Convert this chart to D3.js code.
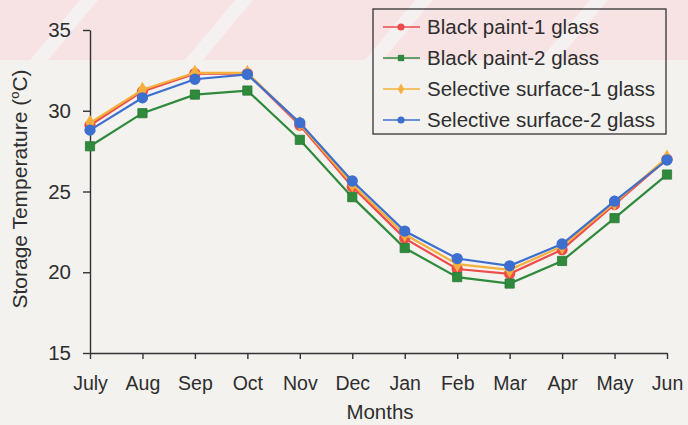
<!DOCTYPE html>
<html>
<head>
<meta charset="utf-8">
<script src="https://cdn.jsdelivr.net/npm/d3@7"></script>
<style>
  html, body { margin: 0; padding: 0; background: #f3f2ef; }
  svg { display: block; font-family: Arial, "Liberation Sans", sans-serif; }
</style>
</head>
<body>
<svg id="chart" width="688" height="425"></svg>
<script>
// Monthly storage temperatures of the collector variants
const months = ["July", "Aug", "Sep", "Oct", "Nov", "Dec", "Jan", "Feb", "Mar", "Apr", "May", "Jun"];
const blackPaint1 = [29.1, 31.2, 32.3, 32.3, 29.1, 25.3, 22.1, 20.2, 19.9, 21.4, 24.2, 27.0];
const blackPaint2 = [27.8, 29.85, 31.0, 31.25, 28.2, 24.65, 21.5, 19.7, 19.3, 20.7, 23.35, 26.05];
const selective1 = [29.25, 31.3, 32.35, 32.35, 29.2, 25.45, 22.35, 20.5, 20.15, 21.6, 24.3, 27.1];
const selective2 = [28.8, 30.8, 31.95, 32.25, 29.25, 25.65, 22.55, 20.85, 20.4, 21.75, 24.4, 26.95];
const yTicks = [15, 20, 25, 30, 35];
const seriesNames = ["Black paint-1 glass", "Black paint-2 glass", "Selective surface-1 glass", "Selective surface-2 glass"];

const series = [
  { name: seriesNames[0], values: blackPaint1, color: "#ee4b4b", marker: "circle" },
  { name: seriesNames[1], values: blackPaint2, color: "#2f8a3c", marker: "square" },
  { name: seriesNames[2], values: selective1, color: "#f4b03a", marker: "diamond" },
  { name: seriesNames[3], values: selective2, color: "#3d6fcf", marker: "circle" }
];

const svg = d3.select("#chart");
const W = 688, H = 425;
const textColor = "#2e2e2e";

// faint pink banner with diagonal light stripes across the top
const band = svg.append("g");
band.append("rect").attr("x", 0).attr("y", 0).attr("width", W).attr("height", 60).attr("fill", "#f7e2e4");
[30, 185, 365, 540, 700].forEach(x0 => {
  band.append("polygon")
    .attr("points", [[x0, 60], [x0 + 18, 60], [x0 + 68, 0], [x0 + 50, 0]].map(p => p.join(",")).join(" "))
    .attr("fill", "#f6f1f1");
});

const x = d3.scalePoint().domain(months).range([90, 667]);
const y = d3.scaleLinear().domain([15, 35]).range([353, 30]);

// axes
const xAxis = svg.append("g").attr("transform", "translate(0,353)")
  .call(d3.axisBottom(x).tickSize(6).tickPadding(17).tickSizeOuter(0));
const yAxis = svg.append("g").attr("transform", "translate(90,0)")
  .call(d3.axisLeft(y).tickValues(yTicks).tickSize(7).tickPadding(12).tickSizeOuter(0));

[xAxis, yAxis].forEach(g => {
  g.select(".domain").attr("stroke", "#333").attr("stroke-width", 1.4);
  g.selectAll(".tick line").attr("stroke", "#333").attr("stroke-width", 1.4);
  g.selectAll(".tick text").attr("fill", textColor)
    .attr("font-family", "Arial, 'Liberation Sans', sans-serif");
});
xAxis.selectAll(".tick text").attr("font-size", 19.5);
yAxis.selectAll(".tick text").attr("font-size", 20.5);

// axis titles
svg.append("text")
  .attr("x", 380).attr("y", 419)
  .attr("text-anchor", "middle")
  .attr("font-size", 20.5).attr("fill", textColor)
  .text("Months");

const yTitle = svg.append("text")
  .attr("transform", "translate(27,189) rotate(-90)")
  .attr("text-anchor", "middle")
  .attr("font-size", 21).attr("fill", textColor);
yTitle.append("tspan").text("Storage Temperature (");
yTitle.append("tspan").attr("font-size", 13).attr("dy", -8).text("o");
yTitle.append("tspan").attr("dy", 8).text("C)");

// marker symbols
const symbolFor = {
  circle: d3.symbol().type(d3.symbolCircle).size(100),
  square: d3.symbol().type(d3.symbolSquare).size(85),
  diamond: d3.symbol().type(d3.symbolDiamond).size(75)
};

const line = d3.line().x((d, i) => x(months[i])).y(d => y(d));

series.forEach(s => {
  const g = svg.append("g");
  g.append("path")
    .attr("d", line(s.values))
    .attr("fill", "none")
    .attr("stroke", s.color)
    .attr("stroke-width", 2.2);
  g.selectAll("path.pt").data(s.values).join("path")
    .attr("class", "pt")
    .attr("transform", (d, i) => `translate(${x(months[i])},${y(d)})`)
    .attr("d", symbolFor[s.marker]())
    .attr("fill", s.color)
    .attr("stroke", s.marker === "square" ? "#2a7a35" : "none")
    .attr("stroke-width", 0.8);
});

// legend
const legend = svg.append("g");
legend.append("rect")
  .attr("x", 373).attr("y", 9).attr("width", 293).attr("height", 125)
  .attr("fill", "none").attr("stroke", "#333").attr("stroke-width", 1.3);

const legendSymbol = {
  circle: d3.symbol().type(d3.symbolCircle).size(40),
  square: d3.symbol().type(d3.symbolSquare).size(40),
  diamond: d3.symbol().type(d3.symbolDiamond).size(35)
};

series.forEach((s, i) => {
  const cy = 27 + i * 31;
  const row = legend.append("g");
  row.append("line")
    .attr("x1", 383).attr("x2", 420).attr("y1", cy).attr("y2", cy)
    .attr("stroke", s.color).attr("stroke-width", 1.6);
  row.append("path")
    .attr("transform", `translate(401,${cy})`)
    .attr("d", legendSymbol[s.marker]())
    .attr("fill", s.color);
  row.append("text")
    .attr("x", 427).attr("y", cy + 7)
    .attr("font-size", 20.5).attr("fill", textColor)
    .text(s.name);
});
</script>
</body>
</html>
